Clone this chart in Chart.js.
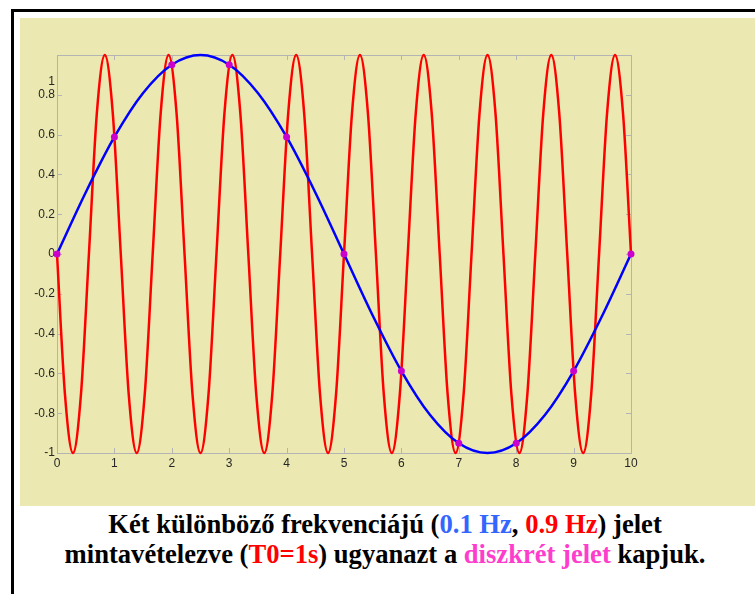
<!DOCTYPE html>
<html>
<head>
<meta charset="utf-8">
<script src="https://cdn.jsdelivr.net/npm/chart.js@4"></script>
<style>
  html,body{margin:0;padding:0;background:#fff;width:755px;height:594px;overflow:hidden;}
  #frame{position:absolute;left:11px;top:9px;width:760px;height:600px;border-left:3px solid #000;border-top:3px solid #000;}
  #panel{position:absolute;left:20px;top:18px;width:735px;height:488px;background:#ebe9b1;}
  #c{position:absolute;left:20px;top:18px;}
  .cap{position:absolute;left:0;width:770px;text-align:center;font-family:"Liberation Serif","Times New Roman",serif;font-weight:bold;font-size:26.6px;color:#000;white-space:nowrap;line-height:1;}
  .b{color:#3366ff}.r{color:#ff0000}.m{color:#ff3dcc}
</style>
</head>
<body>
<div id="frame"></div>
<div id="panel"></div>
<canvas id="c" width="735" height="488"></canvas>
<div class="cap" style="top:511px;">Két különböző frekvenciájú (<span class="b">0.1 Hz</span>, <span class="r">0.9 Hz</span>) jelet</div>
<div class="cap" style="top:541px;">mintavételezve (<span class="r">T0=1s</span>) ugyanazt a <span class="m">diszkrét jelet</span> kapjuk.</div>
<script>
// 0.9 Hz signal (red), sampled at 1/8 of its period
const redT = [
  0, 0.139, 0.278, 0.417, 0.556, 0.694, 0.833, 0.972,
  1.111, 1.25, 1.389, 1.528, 1.667, 1.806, 1.944, 2.083,
  2.222, 2.361, 2.5, 2.639, 2.778, 2.917, 3.056, 3.194,
  3.333, 3.472, 3.611, 3.75, 3.889, 4.028, 4.167, 4.306,
  4.444, 4.583, 4.722, 4.861, 5, 5.139, 5.278, 5.417,
  5.556, 5.694, 5.833, 5.972, 6.111, 6.25, 6.389, 6.528,
  6.667, 6.806, 6.944, 7.083, 7.222, 7.361, 7.5, 7.639,
  7.778, 7.917, 8.056, 8.194, 8.333, 8.472, 8.611, 8.75,
  8.889, 9.028, 9.167, 9.306, 9.444, 9.583, 9.722, 9.861,
  10];
const redY = [
  0, -0.707, -1, -0.707, 0, 0.707, 1, 0.707,
  0, -0.707, -1, -0.707, 0, 0.707, 1, 0.707,
  0, -0.707, -1, -0.707, 0, 0.707, 1, 0.707,
  0, -0.707, -1, -0.707, 0, 0.707, 1, 0.707,
  0, -0.707, -1, -0.707, 0, 0.707, 1, 0.707,
  0, -0.707, -1, -0.707, 0, 0.707, 1, 0.707,
  0, -0.707, -1, -0.707, 0, 0.707, 1, 0.707,
  0, -0.707, -1, -0.707, 0, 0.707, 1, 0.707,
  0, -0.707, -1, -0.707, 0, 0.707, 1, 0.707,
  0];
// 0.1 Hz signal (blue)
const blueT = [0,0.5,1,1.5,2,2.5,3,3.5,4,4.5,5,5.5,6,6.5,7,7.5,8,8.5,9,9.5,10];
const blueY = [0,0.309,0.588,0.809,0.951,1,0.951,0.809,0.588,0.309,0,-0.309,-0.588,-0.809,-0.951,-1,-0.951,-0.809,-0.588,-0.309,0];
// discrete samples, T0 = 1 s
const sampleT = [0,1,2,3,4,5,6,7,8,9,10];
const sampleY = [0,0.588,0.951,0.951,0.588,0,-0.588,-0.951,-0.951,-0.588,0];
const xTicks = [0,1,2,3,4,5,6,7,8,9,10];
const yTicks = [-1,-0.8,-0.6,-0.4,-0.2,0,0.2,0.4,0.6,0.8,1];

const pts = (xs, ys) => xs.map((x,i)=>({x:x,y:ys[i]}));

const axisDeco = {
  id:'axisDeco',
  beforeDatasetsDraw(chart){
    const {ctx, chartArea:a, scales:{x,y}} = chart;
    ctx.save();
    ctx.strokeStyle = '#b4b4b4';
    ctx.lineWidth = 1;
    ctx.beginPath();
    xTicks.forEach(v=>{
      const px = Math.round(x.getPixelForValue(v))+0.5;
      ctx.moveTo(px,a.bottom); ctx.lineTo(px,a.bottom-5);
      ctx.moveTo(px,a.top); ctx.lineTo(px,a.top+5);
    });
    yTicks.forEach(v=>{
      const py = Math.round(y.getPixelForValue(v))+0.5;
      ctx.moveTo(a.left,py); ctx.lineTo(a.left+5,py);
      ctx.moveTo(a.right,py); ctx.lineTo(a.right-5,py);
    });
    ctx.stroke();
    ctx.strokeRect(Math.round(a.left)+0.5, Math.round(a.top)+0.5, Math.round(a.right-a.left), Math.round(a.bottom-a.top));
    ctx.restore();
  },
  afterDraw(chart){
    const {ctx, chartArea:a, scales:{y}} = chart;
    ctx.save();
    ctx.fillStyle = '#262626';
    ctx.font = '12px "Liberation Sans", Arial, sans-serif';
    ctx.textAlign = 'right';
    ctx.textBaseline = 'middle';
    ctx.fillText('1', a.left-2, y.getPixelForValue(0.865));
    ctx.restore();
  }
};

new Chart(document.getElementById('c'), {
  type:'scatter',
  data:{datasets:[
    {data:pts(sampleT,sampleY), showLine:false, pointRadius:3.5, pointBackgroundColor:'#cc00cc', pointBorderColor:'#cc00cc', pointBorderWidth:0, clip:6},
    {data:pts(blueT,blueY), showLine:true, borderColor:'#0000ff', borderWidth:2.5, pointRadius:0, cubicInterpolationMode:'monotone', clip:6},
    {data:pts(redT,redY), showLine:true, borderColor:'#ff0000', borderWidth:2.5, pointRadius:0, cubicInterpolationMode:'monotone', clip:6}
  ]},
  options:{
    responsive:false, animation:false,
    layout:{padding:{left:0, top:37, right:124, bottom:33}},
    plugins:{legend:{display:false}, tooltip:{enabled:false}},
    scales:{
      x:{type:'linear', min:0, max:10,
        afterBuildTicks(s){ s.ticks = xTicks.map(v=>({value:v})); },
        afterFit(s){ s.height = 20; },
        grid:{display:false, drawTicks:false}, border:{display:false},
        ticks:{padding:3, color:'#262626', font:{family:'"Liberation Sans", Arial, sans-serif', size:12}, maxRotation:0, autoSkip:false,
          callback:v=>String(v)}
      },
      y:{type:'linear', min:-1, max:1,
        afterBuildTicks(s){ s.ticks = yTicks.map(v=>({value:v})); },
        afterFit(s){ s.width = 37; },
        grid:{display:false, drawTicks:false}, border:{display:false},
        ticks:{padding:2, color:'#262626', font:{family:'"Liberation Sans", Arial, sans-serif', size:12}, autoSkip:false,
          callback:v=> v===1 ? '' : String(Number(v.toFixed(1)))}
      }
    }
  },
  plugins:[axisDeco]
});
</script>
</body>
</html>
